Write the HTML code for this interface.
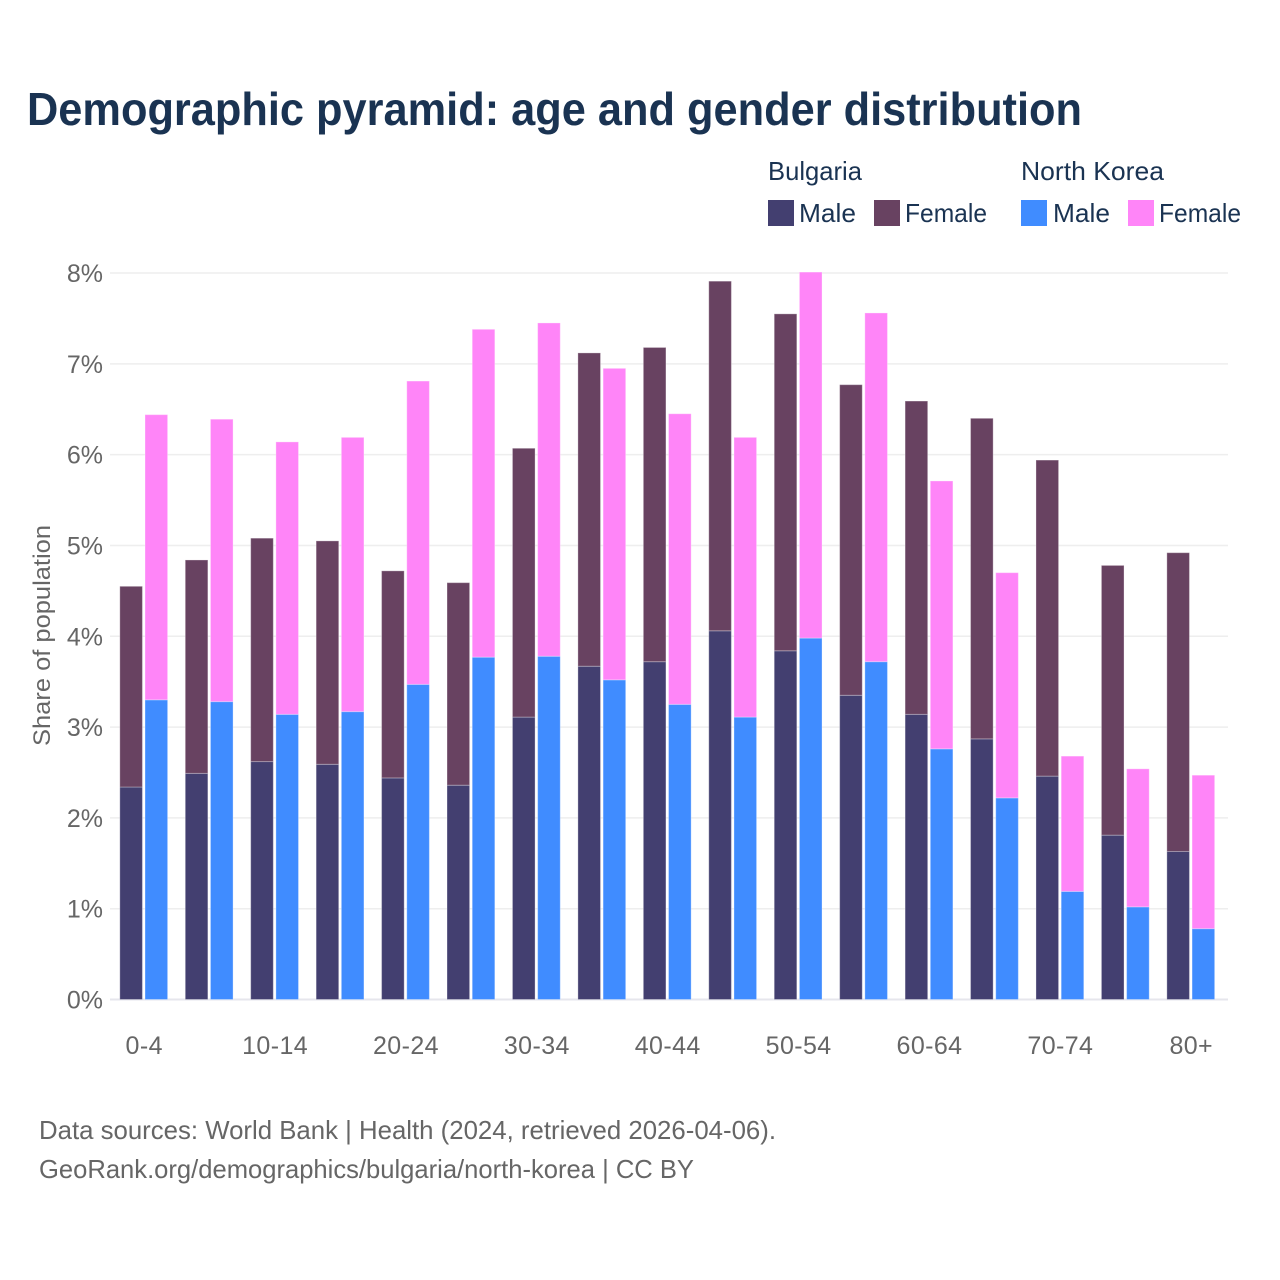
<!DOCTYPE html>
<html lang="en">
<head>
<meta charset="utf-8">
<title>Demographic pyramid: age and gender distribution</title>
<style>
html,body{margin:0;padding:0;background:#fff;}
svg{display:block;font-family:"Liberation Sans",sans-serif;}
</style>
</head>
<body>
<svg id="chart" xmlns="http://www.w3.org/2000/svg" width="1280" height="1280" viewBox="0 0 1280 1280">
  <rect x="0" y="0" width="1280" height="1280" fill="#ffffff"/>
  <text x="27" y="125" font-size="46" font-weight="700" fill="#1a3352" textLength="1055" lengthAdjust="spacingAndGlyphs">Demographic pyramid: age and gender distribution</text>

  <g id="grid"></g>
  <g id="bars"></g>
  <g id="yticks"></g>
  <g id="xticks"></g>

  <text transform="translate(50,746) rotate(-90)" font-size="24" fill="#666666" textLength="221" lengthAdjust="spacingAndGlyphs">Share of population</text>

  <g font-size="26" fill="#1a3352">
    <text x="768" y="180" textLength="94" lengthAdjust="spacingAndGlyphs">Bulgaria</text>
    <text x="1021" y="180" textLength="143" lengthAdjust="spacingAndGlyphs">North Korea</text>
    <rect x="768" y="200" width="26" height="26" fill="#433f70"/>
    <text x="799" y="222" textLength="57" lengthAdjust="spacingAndGlyphs">Male</text>
    <rect x="874" y="200" width="26" height="26" fill="#684261"/>
    <text x="905" y="222" textLength="82" lengthAdjust="spacingAndGlyphs">Female</text>
    <rect x="1021" y="200" width="26" height="26" fill="#408cff"/>
    <text x="1053" y="222" textLength="57" lengthAdjust="spacingAndGlyphs">Male</text>
    <rect x="1128" y="200" width="26" height="26" fill="#ff85f8"/>
    <text x="1159" y="222" textLength="82" lengthAdjust="spacingAndGlyphs">Female</text>
  </g>

  <text x="39" y="1139" font-size="26" fill="#666666" textLength="737" lengthAdjust="spacingAndGlyphs">Data sources: World Bank | Health (2024, retrieved 2026-04-06).</text>
  <text x="39" y="1178" font-size="26" fill="#666666" textLength="655" lengthAdjust="spacingAndGlyphs">GeoRank.org/demographics/bulgaria/north-korea | CC BY</text>
</svg>
<script>
const categories = ["0-4","5-9","10-14","15-19","20-24","25-29","30-34","35-39","40-44","45-49","50-54","55-59","60-64","65-69","70-74","75-79","80+"];
const tickLabelsX = ["0-4","10-14","20-24","30-34","40-44","50-54","60-64","70-74","80+"];
const tickValuesY = [0,1,2,3,4,5,6,7,8];
const bulgariaMale = [2.34,2.49,2.62,2.59,2.44,2.36,3.11,3.67,3.72,4.06,3.84,3.35,3.14,2.87,2.46,1.81,1.63];
const bulgariaFemale = [2.21,2.35,2.46,2.46,2.28,2.23,2.96,3.45,3.46,3.85,3.71,3.42,3.45,3.53,3.48,2.97,3.29];
const northKoreaMale = [3.30,3.28,3.14,3.17,3.47,3.77,3.78,3.52,3.25,3.11,3.98,3.72,2.76,2.22,1.19,1.02,0.78];
const northKoreaFemale = [3.14,3.11,3.00,3.02,3.34,3.61,3.67,3.43,3.20,3.08,4.03,3.84,2.95,2.48,1.49,1.52,1.69];

const NS = 'http://www.w3.org/2000/svg';
const plotLeft = 110, plotRight = 1228, yZero = 999.5, yTop = 273, yMax = 8;
const bandLeft = 111, bandStep = 65.44, barWidth = 22.6, barGap = 2.6;

function yScale(v) { return yZero - (v / yMax) * (yZero - yTop); }
function xCenter(i) { return bandLeft + bandStep * (i + 0.5); }

function make(tag, attrs, parent) {
  const el = document.createElementNS(NS, tag);
  for (const k in attrs) el.setAttribute(k, attrs[k]);
  parent.appendChild(el);
  return el;
}

const gridG = document.getElementById('grid');
const yTickG = document.getElementById('yticks');
tickValuesY.forEach(function (v) {
  const line = make('line', {x1: plotLeft, x2: plotRight, y1: yScale(v), y2: yScale(v), stroke: v === 0 ? '#e6e6ec' : '#eeeeee', 'stroke-width': v === 0 ? 2 : 1.5}, gridG);
  
  
  const t = make('text', {x: 103, y: yScale(v) + 9, 'text-anchor': 'end', 'font-size': 25, fill: '#666666'}, yTickG);
  
  
  t.textContent = v + '%';
});

const xTickG = document.getElementById('xticks');
tickLabelsX.forEach(function (label) {
  const i = categories.indexOf(label);
  const t = make('text', {x: xCenter(i) + 0.5, y: 1054, 'text-anchor': 'middle', 'font-size': 25, 'letter-spacing': 0.4, fill: '#666666'}, xTickG);
  
  
  t.textContent = label;
});

const barsG = document.getElementById('bars');
function addBar(x, v0, v1, fill) {
  const r = make('rect', {x: x, y: yScale(v1), width: barWidth, height: yScale(v0) - yScale(v1), fill: fill, stroke: 'rgba(255,255,255,0.3)', 'stroke-width': 1}, barsG);
  
  
}
categories.forEach(function (c, i) {
  const cx = xCenter(i);
  const xA = cx - barGap / 2 - barWidth;
  const xB = cx + barGap / 2;
  addBar(xA, 0, bulgariaMale[i], '#433f70');
  addBar(xA, bulgariaMale[i], bulgariaMale[i] + bulgariaFemale[i], '#684261');
  addBar(xB, 0, northKoreaMale[i], '#408cff');
  addBar(xB, northKoreaMale[i], northKoreaMale[i] + northKoreaFemale[i], '#ff85f8');
});
</script>
</body>
</html>
